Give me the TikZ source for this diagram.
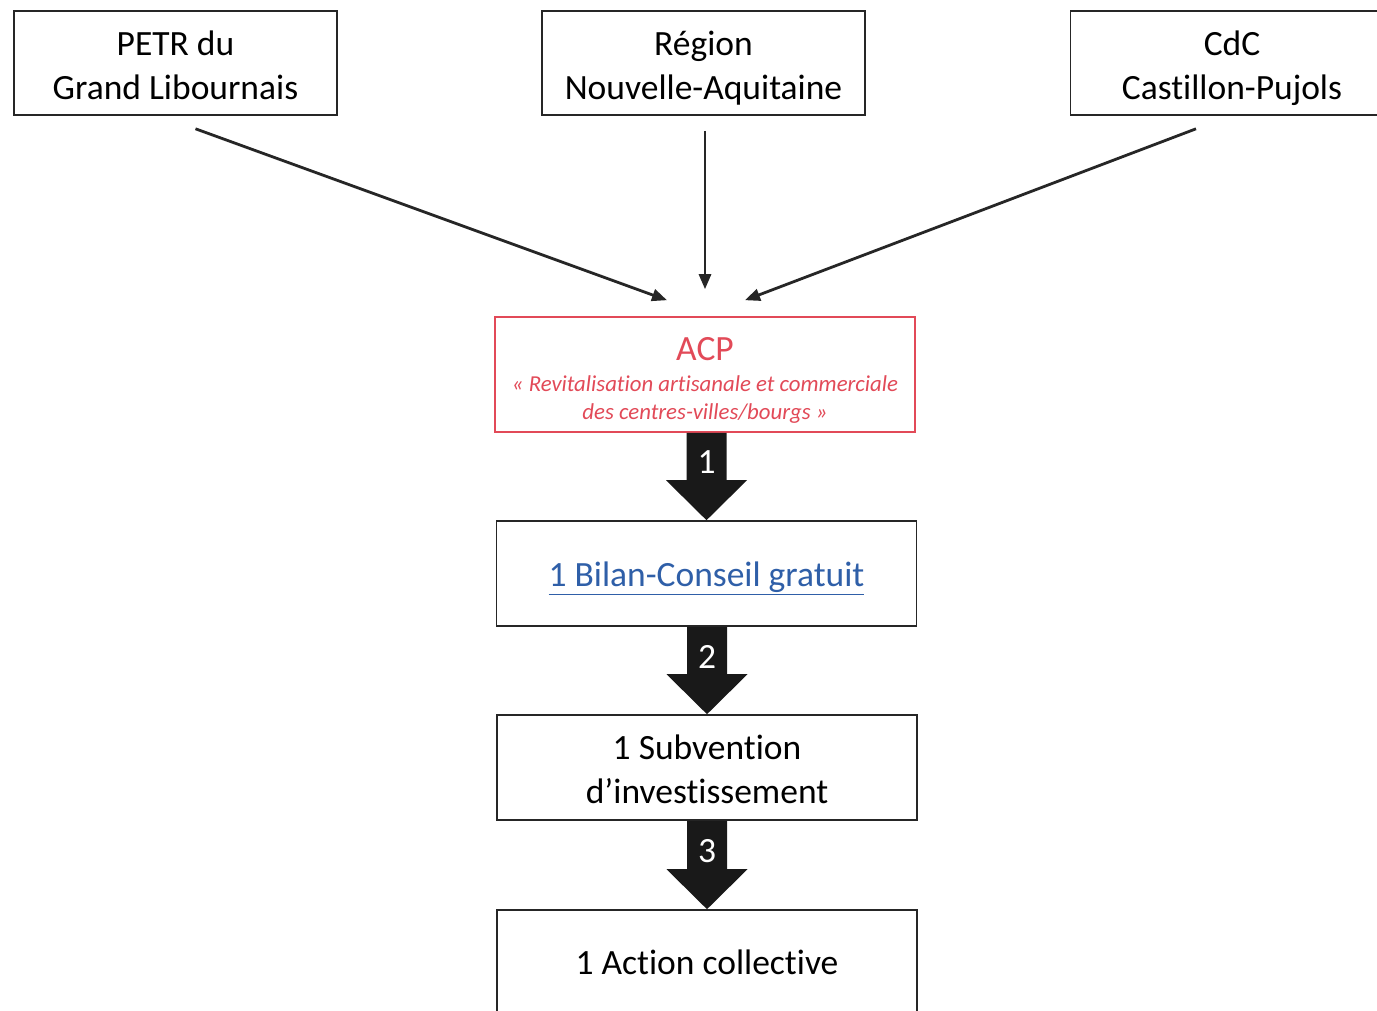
\documentclass[tikz,border=0pt]{standalone}
\usepackage{fontspec}
\setmainfont{Carlito}[Ligatures=NoCommon]
\usetikzlibrary{arrows.meta,calc}
\definecolor{acpred}{RGB}{226,74,88}
\definecolor{linkblue}{RGB}{47,95,168}
\newcommand{\topstrut}{\rule{0pt}{35pt}}
\newcommand{\botstrut}{\rule[-7pt]{0pt}{7pt}}
\begin{document}
\begin{tikzpicture}[x=1pt,y=-1pt,
	box/.style={draw=black!85,line width=1.6pt,minimum width=323pt,minimum height=104pt,
		inner sep=0pt,align=center,font=\fontsize{35.5}{44}\selectfont},
	stepbox/.style={box,minimum width=420pt,minimum height=105pt},
	link/.style={draw=black!85,line width=2.8pt,-{Triangle[length=15pt,width=12pt]}},
	blk/.style={fill=black!90,draw=none},
	num/.style={text=white,font=\fontsize{35.5}{40}\selectfont,inner sep=0pt}]
	\useasboundingbox (0,0) rectangle (1377,1010);
	\fill[white] (0,0) rectangle (1377,1010);
	% sources
	\node[box] (petr) at (175.5,63) {\topstrut PETR du\\Grand Libournais\botstrut};
	\node[box] (region) at (703.5,63) {\topstrut Région\\Nouvelle-Aquitaine\botstrut};
	\node[box] (cdc) at (1232,63) {\topstrut CdC\\Castillon-Pujols\botstrut};
	% chain
	\node[stepbox,draw=acpred,text=acpred,minimum height=115pt] (acp) at (705,374.5)
		{\rule{0pt}{39pt}ACP\\[1pt]{\fontsize{22.8}{28}\selectfont\itshape
		\begin{tabular}{@{}c@{}}«~Revitalisation artisanale et commerciale\\des centres-villes/bourgs~»\rule[-8pt]{0pt}{8pt}\end{tabular}}};
	\node[stepbox] (bilan) at (706.5,573.5) {\topstrut\textcolor{linkblue}{\underline{1 Bilan-Conseil gratuit}}};
	\node[stepbox] (subv) at (707,767.5) {\topstrut 1 Subvention\\d’investissement\botstrut};
	\node[stepbox] (action) at (707,962.5) {1 Action collective};
	% thin arrows
	\coordinate (petr-out) at ([xshift=20pt,yshift=-13pt]petr.south);
	\coordinate (region-out) at ([xshift=1.5pt,yshift=-15pt]region.south);
	\coordinate (cdc-out) at ([xshift=-36pt,yshift=-13pt]cdc.south);
	\coordinate (acp-in1) at ([xshift=-38pt,yshift=16pt]acp.north);
	\coordinate (acp-in2) at ([yshift=27pt]acp.north);
	\coordinate (acp-in3) at ([xshift=40pt,yshift=16pt]acp.north);
	\draw[link] (petr-out) -- (acp-in1);
	\draw[link] (region-out) -- (acp-in2);
	\draw[link] (cdc-out) -- (acp-in3);
	% block arrows
	\foreach \a/\b/\n in {acp/bilan/1,bilan/subv/2,subv/action/3}{
		\fill[blk] ($(\a.south -| \b.north)+(-20pt,0)$) -- ($(\a.south -| \b.north)+(20pt,0)$)
			-- ($(\b.north)+(20pt,40pt)$) -- ($(\b.north)+(40.5pt,40pt)$) -- (\b.north)
			-- ($(\b.north)+(-40.5pt,40pt)$) -- ($(\b.north)+(-20pt,40pt)$) -- cycle;
		\node[num] (n\n) at ($(\a.south -| \b.north)!0.34!(\b.north)$) {\n};
	}
\end{tikzpicture}
\end{document}
